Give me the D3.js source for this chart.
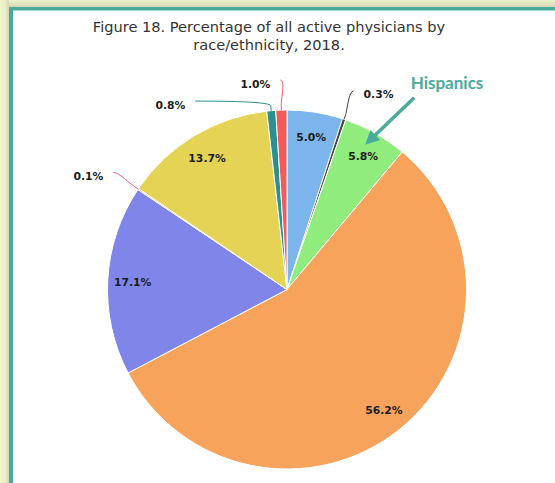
<!DOCTYPE html>
<html>
<head>
<meta charset="utf-8">
<script src="https://cdn.jsdelivr.net/npm/d3@7"></script>
<style>
  html, body { margin: 0; padding: 0; background: #eef2cb; }
  svg { display: block; }
</style>
</head>
<body>
<div id="chart"></div>
<script>
// physicians by race/ethnicity, 2018 (percent of all active physicians)
var groups = ["Black or African American", "American Indian or Alaska Native", "Hispanic",
  "White", "Asian", "Native Hawaiian or Other Pacific Islander", "Unknown", "Other",
  "Multiple Race, Non-Hispanic"];
var shares = [5.0, 0.3, 5.8, 56.2, 17.1, 0.1, 13.7, 0.8, 1.0];
var colors = ["#7cb5ec", "#434348", "#90ed7d", "#f7a35c", "#8085e9", "#f15c80",
  "#e4d354", "#2b908f", "#f45b5b"];
var titleLines = ["Figure 18. Percentage of all active physicians by", "race/ethnicity, 2018."];

var w = 555;
var h = 483;
var cx = 287, cy = 289.5, r = 179.5;
var teal = "#4aab9d";

var data = groups.map(function(g, i) {
  return {name: g, value: shares[i], color: colors[i]};
});

var svg = d3.select("#chart").append("svg")
  .attr("width", w)
  .attr("height", h);

// frame: pale backdrop, soft shadow, teal border, white panel
var defs = svg.append("defs");
var shadeL = defs.append("linearGradient").attr("id", "shadeL")
  .attr("x1", "0").attr("x2", "1").attr("y1", "0").attr("y2", "0");
shadeL.append("stop").attr("offset", "0").attr("stop-color", "#f1f5cf");
shadeL.append("stop").attr("offset", "0.6").attr("stop-color", "#e9edc6");
shadeL.append("stop").attr("offset", "1").attr("stop-color", "#d3d6b4");
var shadeT = defs.append("linearGradient").attr("id", "shadeT")
  .attr("x1", "0").attr("x2", "0").attr("y1", "0").attr("y2", "1");
shadeT.append("stop").attr("offset", "0").attr("stop-color", "#eef2cb");
shadeT.append("stop").attr("offset", "1").attr("stop-color", "#d5d8b6");

svg.append("rect").attr("width", w).attr("height", h).attr("fill", "#eef2cb");
svg.append("rect").attr("x", 0).attr("y", 0).attr("width", 9).attr("height", h)
  .attr("fill", "url(#shadeL)");
svg.append("rect").attr("x", 9).attr("y", 0).attr("width", w).attr("height", 7)
  .attr("fill", "url(#shadeT)");
svg.append("rect").attr("x", 9).attr("y", 7).attr("width", w).attr("height", h)
  .attr("fill", teal);
svg.append("rect").attr("x", 13).attr("y", 10.5).attr("width", w).attr("height", h)
  .attr("fill", "#ffffff");

// title
svg.append("text")
  .attr("x", 269)
  .attr("y", 32)
  .attr("text-anchor", "middle")
  .style("font-family", "DejaVu Sans, sans-serif")
  .style("font-size", "14.6px")
  .style("fill", "#333333")
  .selectAll("tspan")
  .data(titleLines)
  .enter()
  .append("tspan")
  .attr("x", 269)
  .attr("dy", function(d, i) { return i == 0 ? 0 : 18; })
  .text(function(d) { return d; });

var pie = d3.pie().sort(null).value(function(d) { return d.value; });
var arcs = pie(data);

var arc = d3.arc().innerRadius(0).outerRadius(r);

var g = svg.append("g").attr("transform", "translate(" + cx + "," + cy + ")");

g.selectAll("path.slice")
  .data(arcs)
  .enter()
  .append("path")
  .attr("class", "slice")
  .attr("d", arc)
  .attr("fill", function(d) { return d.data.color; })
  .attr("stroke", "#ffffff")
  .attr("stroke-width", 1)
  .attr("stroke-linejoin", "round");

function polar(a, q) {
  return [cx + q * Math.sin(a), cy - q * Math.cos(a)];
}
function mid(d) { return (d.startAngle + d.endAngle) / 2; }
function fmt(v) { return v.toFixed(1) + "%"; }

var labelFont = {family: "DejaVu Sans, sans-serif", size: "10.8px"};

// big slices get their labels inside
var inside = arcs.filter(function(d) { return d.data.value >= 2; });
svg.selectAll("text.inlabel")
  .data(inside)
  .enter()
  .append("text")
  .attr("class", "inlabel")
  .attr("x", function(d) { return polar(mid(d), r - 25)[0]; })
  .attr("y", function(d) { return polar(mid(d), r - 25)[1] + 4.5; })
  .attr("text-anchor", "middle")
  .style("font-family", labelFont.family)
  .style("font-size", labelFont.size)
  .style("font-weight", "bold")
  .style("fill", "#1c1c1c")
  .text(function(d) { return fmt(d.data.value); });

// thin slices: outside labels with soft connectors
var dist = 30;
var R = r + dist;
var outside = arcs.filter(function(d) { return d.data.value < 2; }).map(function(d) {
  var a = mid(d);
  var p = polar(a, R);
  return {d: d, a: a, y: p[1], right: Math.sin(a) >= 0};
});

// push colliding labels apart, per side
[true, false].forEach(function(side) {
  var list = outside.filter(function(o) { return o.right == side; })
    .sort(function(a, b) { return a.y - b.y; });
  for (var i = 1; i < list.length; i++) {
    if (list[i].y - list[i - 1].y < 21) list[i].y = list[i - 1].y + 21;
  }
});

outside.forEach(function(o) {
  var dy = o.y - cy;
  var dx = Math.sqrt(Math.max(0, R * R - dy * dy));
  o.x = o.right ? cx + dx : cx - dx;
  var touch = polar(o.a, r);
  var brk = polar(o.a, r + 5);
  var p = d3.path();
  p.moveTo(o.x, o.y);
  p.bezierCurveTo(o.x + (o.right ? -5 : 5), o.y,
    2 * brk[0] - touch[0], 2 * brk[1] - touch[1], brk[0], brk[1]);
  p.lineTo(touch[0], touch[1]);

  svg.append("path")
    .attr("d", p.toString())
    .attr("fill", "none")
    .attr("stroke", o.d.data.color)
    .attr("stroke-width", 1);

  svg.append("text")
    .attr("x", o.right ? o.x + 10 : o.x - 10)
    .attr("y", o.y + 7.5)
    .attr("text-anchor", o.right ? "start" : "end")
    .style("font-family", labelFont.family)
    .style("font-size", labelFont.size)
    .style("font-weight", "bold")
    .style("fill", "#1c1c1c")
    .text(fmt(o.d.data.value));
});

// call-out for the Hispanic slice
var hisp = arcs[groups.indexOf("Hispanic")];
var tip = polar(mid(hisp) - 0.02, r - 15);
var tail = [tip[0] + 49, tip[1] - 47];
var ang = Math.atan2(tip[1] - tail[1], tip[0] - tail[0]);
var headLen = 14, headW = 7;
var base = [tip[0] - headLen * Math.cos(ang), tip[1] - headLen * Math.sin(ang)];

svg.append("line")
  .attr("x1", tail[0]).attr("y1", tail[1])
  .attr("x2", base[0]).attr("y2", base[1])
  .attr("stroke", teal)
  .attr("stroke-width", 3.5);

svg.append("path")
  .attr("d", "M" + tip[0] + "," + tip[1] +
    "L" + (base[0] + headW * Math.sin(ang)) + "," + (base[1] - headW * Math.cos(ang)) +
    "L" + (base[0] - headW * Math.sin(ang)) + "," + (base[1] + headW * Math.cos(ang)) + "Z")
  .attr("fill", teal);

svg.append("text")
  .attr("x", 447)
  .attr("y", 89)
  .attr("text-anchor", "middle")
  .style("font-family", "Lato, sans-serif")
  .style("font-size", "17px")
  .style("font-weight", "bold")
  .style("fill", teal)
  .text("Hispanics");
</script>
</body>
</html>
